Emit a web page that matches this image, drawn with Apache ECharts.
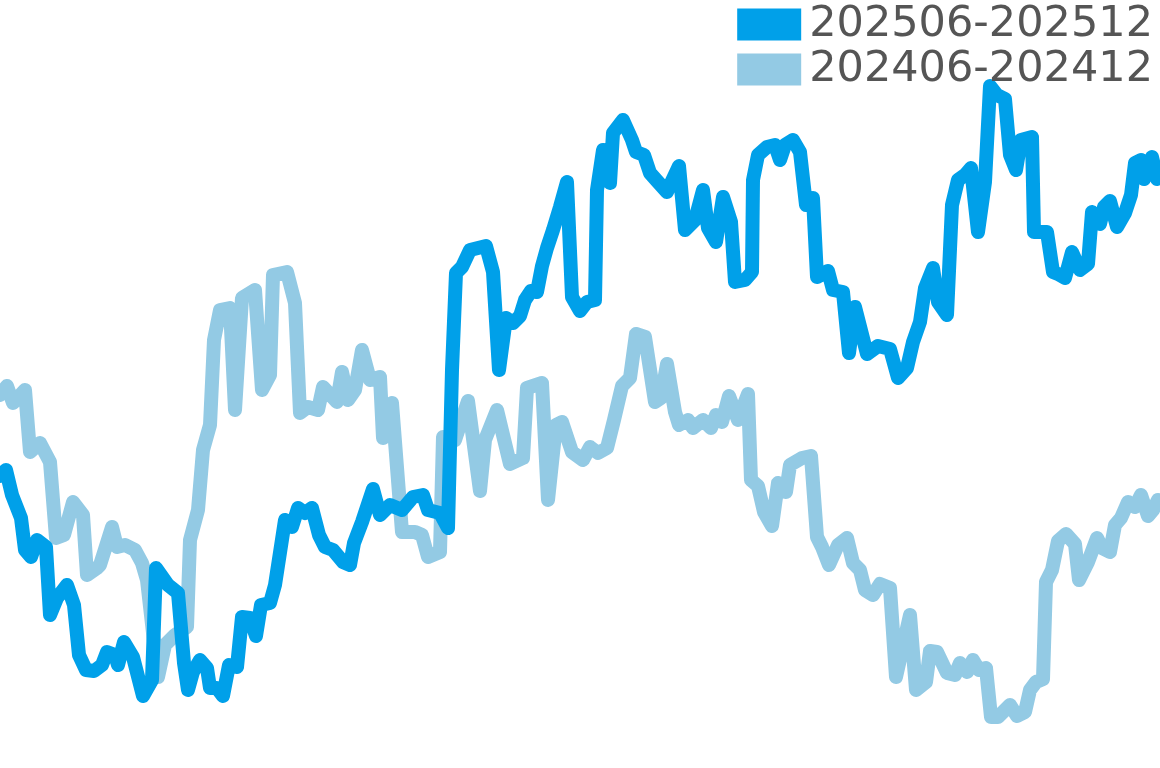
<!DOCTYPE html>
<html>
<head>
<meta charset="utf-8">
<script src="https://cdn.jsdelivr.net/npm/echarts@6/dist/echarts.min.js"></script>
<style>html,body{margin:0;padding:0;background:#fff}#c{width:1160px;height:768px}</style>
</head>
<body>
<div id="c"></div>
<script>
const seriesNames = ['202506-202512', '202406-202412'];

const days2025 = [0,6,12,21,25,31,37,46,50,57,67,74,79,86,94,102,107,115,118,124,133,143,152,156,168,178,184,188,193,200,207,210,217,223,229,237,242,250,256,261,270,275,285,292,298,305,312,319,325,333,343,350,354,362,373,380,390,402,413,423,428,440,448,452,456,462,470,486,493,499,506,513,520,525,531,537,542,547,553,560,567,572,580,587,595,597,603,610,613,623,632,636,644,650,658,667,671,679,685,695,703,708,716,723,731,735,745,752,753,758,767,775,780,785,793,800,806,813,817,828,833,843,849,855,867,878,890,898,907,913,920,925,933,938,947,952,958,965,971,978,985,990,997,1005,1010,1016,1021,1032,1034,1047,1053,1058,1065,1072,1080,1088,1092,1100,1104,1110,1117,1125,1131,1135,1141,1144,1152,1157,1160];
const vals2025 = [292,298,273,250,218,211,228,221,153,170,183,163,113,98,97,103,116,113,103,126,111,72,88,200,183,175,105,78,96,108,100,80,80,72,103,101,151,150,132,163,165,183,248,241,260,255,260,233,221,218,206,203,225,246,279,253,263,258,271,273,258,255,240,398,495,501,518,522,496,398,450,445,452,468,477,476,502,520,538,561,586,471,457,466,468,578,618,585,635,648,628,616,613,595,586,576,585,602,538,548,578,540,526,571,546,486,488,496,588,613,621,623,608,623,628,616,563,570,491,497,478,476,415,461,414,422,419,390,400,426,446,480,500,466,453,563,588,593,600,536,586,682,673,669,613,598,628,631,536,536,496,494,490,516,498,504,556,544,561,567,541,555,573,605,608,589,611,589,592];

const days2024 = [0,7,13,25,30,40,50,56,64,73,83,87,97,100,112,117,125,135,142,147,158,165,175,187,190,198,203,210,214,220,230,235,242,255,262,270,273,287,295,300,308,318,323,337,342,348,355,362,370,380,383,392,402,415,422,428,440,443,455,468,480,485,497,510,523,527,542,548,556,562,572,583,590,598,607,614,622,630,636,645,655,661,667,675,679,688,693,703,711,716,722,729,738,748,751,758,764,772,778,786,790,802,811,817,822,829,838,847,853,860,865,873,880,890,896,910,916,926,930,937,947,955,960,967,973,979,986,991,998,1010,1017,1025,1030,1036,1043,1046,1052,1058,1066,1075,1079,1088,1097,1102,1110,1115,1121,1128,1135,1141,1148,1153,1158,1160];
const vals2024 = [373,382,365,378,316,325,306,230,233,266,253,193,200,203,241,221,223,218,205,188,91,123,133,141,228,258,318,343,428,458,460,358,470,478,378,393,493,496,465,355,361,358,381,366,396,368,378,418,388,391,330,365,236,236,233,211,216,331,328,367,277,328,358,304,310,380,385,268,343,346,316,308,321,315,320,348,382,390,434,431,366,370,404,356,343,348,340,348,340,353,346,372,348,374,288,282,256,242,285,276,303,310,312,231,221,203,223,230,205,198,178,173,184,180,91,153,78,86,117,116,95,93,105,96,108,98,100,51,51,63,52,56,78,86,89,186,198,227,234,224,188,206,230,220,216,243,250,266,261,273,252,258,268,265];

const zip = (xs, ys) => xs.map((x, i) => [x, ys[i]]);

const chart = echarts.init(document.getElementById('c'));
chart.setOption({
  animation: false,
  backgroundColor: '#ffffff',
  grid: { left: 0, right: 0, top: 0, bottom: 0, containLabel: false },
  xAxis: { type: 'value', min: 0, max: 1160, show: false },
  yAxis: { type: 'value', min: 0, max: 768, show: false },
  legend: {
    orient: 'vertical',
    right: 7,
    top: 3,
    padding: 0,
    itemGap: 2,
    itemWidth: 64,
    itemHeight: 32,
    icon: 'rect',
    data: seriesNames,
    textStyle: {
      fontSize: 43,
      color: '#555555',
      fontFamily: 'DejaVu Sans',
      padding: [0, 0, 0, 3]
    }
  },
  series: [
    {
      name: seriesNames[0],
      type: 'line',
      z: 3,
      showSymbol: false,
      symbol: 'none',
      color: '#00A0E9',
      lineStyle: { width: 14, color: '#00A0E9', cap: 'round', join: 'round' },
      data: zip(days2025, vals2025)
    },
    {
      name: seriesNames[1],
      type: 'line',
      z: 2,
      showSymbol: false,
      symbol: 'none',
      color: '#93CAE4',
      lineStyle: { width: 14, color: '#93CAE4', cap: 'round', join: 'round' },
      data: zip(days2024, vals2024)
    }
  ]
});
</script>
</body>
</html>
